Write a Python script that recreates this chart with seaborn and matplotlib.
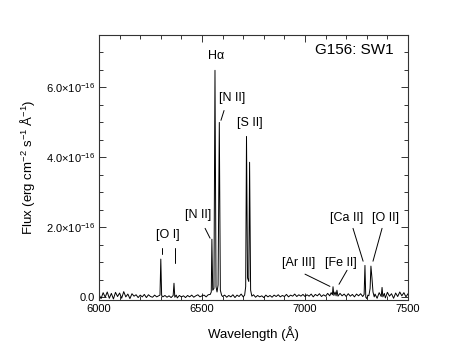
import matplotlib
matplotlib.use("Agg")
import matplotlib.pyplot as plt
import matplotlib.ticker as mticker
import seaborn as sns
import pandas as pd

# spectrum, flux in units of 1e-16 erg cm^-2 s^-1 A^-1
wave = [
    6000, 6010, 6020, 6030, 6040, 6050, 6060, 6070, 6080, 6090,
    6100, 6110, 6120, 6130, 6140, 6150, 6160, 6170, 6180, 6190,
    6200, 6210, 6220, 6230, 6240, 6250, 6260, 6270, 6280, 6290,
    6296, 6300, 6304, 6310, 6320, 6330, 6340, 6350, 6360, 6364, 6368, 6375, 6380, 6390,
    6400, 6410, 6420, 6430, 6440, 6450, 6460, 6470, 6480, 6490,
    6500, 6510, 6520, 6530, 6540, 6545, 6548, 6552, 6558, 6563, 6568, 6573, 6578, 6584, 6589, 6595,
    6600, 6610, 6620, 6630, 6640, 6650, 6660, 6670, 6680, 6690,
    6700, 6707, 6712, 6716, 6721, 6727, 6731, 6736, 6742, 6750,
    6760, 6770, 6780, 6790, 6800, 6810, 6820, 6830, 6840, 6850,
    6860, 6870, 6880, 6890, 6900, 6910, 6920, 6930, 6940, 6950,
    6960, 6970, 6980, 6990,
    7000, 7010, 7020, 7030, 7040, 7050, 7060, 7070, 7080, 7090,
    7100, 7110, 7120, 7127, 7133, 7136, 7140, 7146, 7151, 7155, 7160, 7170, 7180, 7190,
    7200, 7210, 7220, 7230, 7240, 7250, 7260, 7270, 7280, 7287, 7291, 7295,
    7300, 7305, 7310, 7316, 7320, 7325, 7330, 7336,
    7340, 7350, 7360, 7370, 7374, 7378, 7385, 7390,
    7400, 7410, 7420, 7430, 7440, 7450, 7460, 7470, 7480, 7490, 7500,
]
flux = [
    0.08, -0.04, 0.13, 0.00, 0.15, -0.03, 0.11, -0.05, 0.14, 0.02,
    0.12, -0.03, 0.16, 0.01, 0.09, -0.04, 0.10, 0.03, 0.07, -0.01,
    0.06, 0.01, 0.08, -0.01, 0.07, 0.02, 0.00, 0.06, 0.01, 0.04,
    0.06, 1.09, 0.05, 0.01, 0.05, 0.00, 0.04, -0.01, 0.05, 0.40, 0.00, 0.06, -0.02, 0.05,
    0.01, 0.04, -0.01, 0.05, 0.01, 0.06, 0.00, 0.04, 0.07, 0.01,
    0.04, 0.06, 0.01, 0.07, 0.08, 0.15, 1.66, 0.20, 0.25, 6.49, 0.30, 0.15, 0.35, 5.00, 0.20, 0.06,
    0.02, 0.06, 0.00, 0.05, 0.01, 0.07, -0.01, 0.06, 0.02, 0.09,
    0.01, 0.06, 0.30, 4.60, 0.55, 0.45, 3.86, 0.20, 0.03, 0.07,
    0.00, 0.05, 0.01, 0.04, -0.01, 0.06, 0.01, 0.05, 0.00, 0.06,
    0.02, 0.07, 0.01, 0.05, 0.02, 0.08, 0.01, 0.06, 0.03, 0.09,
    0.02, 0.07, 0.03, 0.08,
    0.02, 0.07, 0.03, 0.09, 0.01, 0.08, 0.04, 0.10, 0.02, 0.07,
    0.03, 0.11, 0.04, 0.13, 0.07, 0.30, 0.05, 0.15, 0.04, 0.20, 0.03, 0.11, 0.04, 0.09,
    0.02, 0.10, 0.03, 0.08, 0.01, 0.09, 0.04, 0.10, 0.02, 0.08, 0.91, 0.00,
    -0.04, 0.06, 0.04, 0.25, 0.89, 0.55, 0.15, 0.01,
    0.09, -0.03, 0.13, 0.02, 0.28, 0.01, 0.11, -0.02,
    0.14, 0.03, 0.10, -0.03, 0.12, 0.02, 0.15, 0.04, 0.13, 0.01, 0.10,
]

# line labels: text, text position, leader segments
labels = ["H\u03b1", "[N II]", "[S II]", "[N II]", "[O I]", "[Ca II]", "[O II]", "[Ar III]", "[Fe II]"]
label_x = [6568, 6646, 6733, 6481, 6336, 7202, 7393, 6970, 7175]
label_y = [6.89, 5.69, 4.97, 2.34, 1.77, 2.26, 2.26, 0.97, 0.97]
leaders = [
    ((6607, 5.34), (6592, 5.06)),
    ((6515, 1.97), (6539, 1.69)),
    ((6305, 1.40), (6305, 1.23)),
    ((6369, 1.40), (6369, 0.97)),
    ((7233, 1.97), (7282, 1.03)),
    ((7374, 1.97), (7330, 1.03)),
    ((7000, 0.66), (7121, 0.31)),
    ((7204, 0.77), (7165, 0.37)),
]

sns.set_style("ticks")
plt.rcParams["font.family"] = ["Liberation Sans", "DejaVu Sans"]
plt.rcParams["mathtext.fontset"] = "custom"
plt.rcParams["mathtext.rm"] = "Liberation Sans"
plt.rcParams["mathtext.it"] = "Liberation Sans:italic"
plt.rcParams["mathtext.bf"] = "Liberation Sans:bold"
plt.rcParams["text.color"] = "black"
plt.rcParams["axes.labelcolor"] = "black"

df = pd.DataFrame({"wave": wave, "flux": flux})

fig = plt.figure(figsize=(4.59, 3.54), dpi=100)
ax = fig.add_axes([0.2157, 0.1525, 0.6732, 0.7486])
sns.lineplot(data=df, x="wave", y="flux", sort=False, estimator=None,
             color="black", linewidth=0.7, ax=ax)

ax.set_xlim(6000, 7500)
ax.set_ylim(-0.08, 7.5)
ax.xaxis.set_major_locator(mticker.MultipleLocator(500))
ax.xaxis.set_minor_locator(mticker.MultipleLocator(100))
ax.yaxis.set_major_locator(mticker.FixedLocator([0, 2, 4, 6]))
ax.yaxis.set_minor_locator(mticker.MultipleLocator(0.5))


def yfmt(v, pos):
    if abs(v) < 1e-9:
        return "0.0"
    return r"$%.1f{\times}10^{-16}$" % v


ax.yaxis.set_major_formatter(mticker.FuncFormatter(yfmt))
ax.tick_params(which="both", direction="in", top=True, right=True,
               labelsize=8, color="#333333", labelcolor="black", width=0.7)
ax.tick_params(which="major", length=5, pad=3)
ax.tick_params(which="minor", length=3)
for s in ax.spines.values():
    s.set_color("#333333")
    s.set_linewidth(0.8)

ax.set_xlabel("Wavelength (\u00c5)", fontsize=9.5)
ax.set_ylabel("Flux (erg cm$^{-2}$ s$^{-1}$ \u00c5$^{-1}$)", fontsize=9.5)
ax.xaxis.set_label_coords(0.5, -0.10)
ax.yaxis.set_label_coords(-0.20, 0.5)

for t, x, y in zip(labels, label_x, label_y):
    ax.text(x, y, t, fontsize=9, ha="center", va="center")
for (x0, y0), (x1, y1) in leaders:
    ax.plot([x0, x1], [y0, y1], color="black", linewidth=0.7)

ax.text(0.955, 0.943, "G156: SW1", transform=ax.transAxes, fontsize=11,
        ha="right", va="center")

fig.savefig("out.png", dpi=100)
